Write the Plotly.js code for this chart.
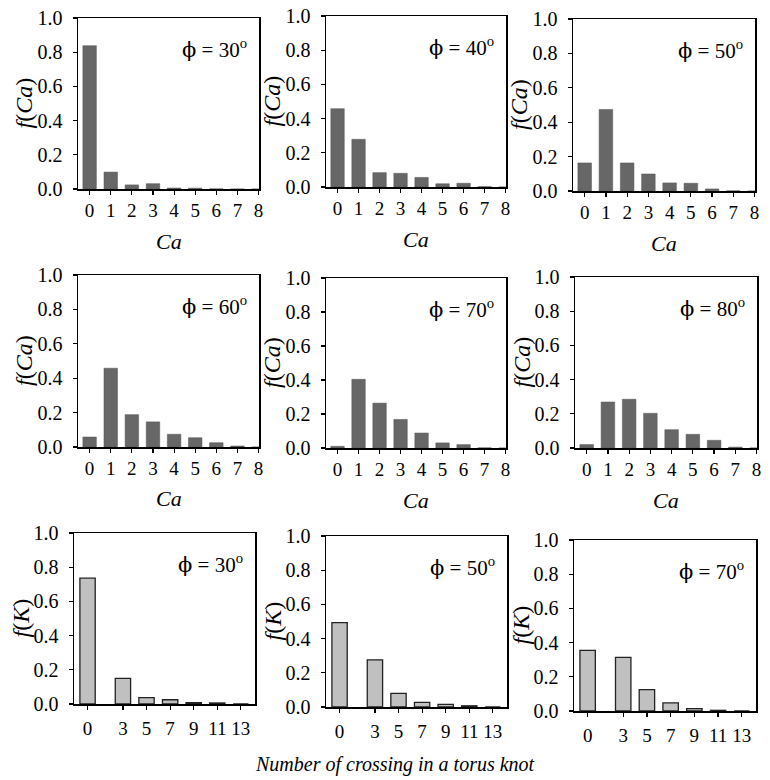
<!DOCTYPE html>
<html>
<head>
<meta charset="utf-8">
<script src="https://cdn.plot.ly/plotly-3.0.1.min.js"></script>
<style>
  html, body { margin: 0; padding: 0; background: #fff; }
  #chart { width: 770px; height: 780px; }
</style>
</head>
<body>
<div id="chart"></div>
<script>
// ---------- data ----------
const caCategories = [0, 1, 2, 3, 4, 5, 6, 7, 8];
const fCa30 = [0.838, 0.099, 0.024, 0.031, 0.006, 0.005, 0.001, 0.0, 0.0];
const fCa40 = [0.458, 0.279, 0.084, 0.080, 0.056, 0.019, 0.022, 0.002, 0.0];
const fCa50 = [0.163, 0.474, 0.163, 0.099, 0.047, 0.045, 0.012, 0.001, 0.0];
const fCa60 = [0.058, 0.458, 0.188, 0.146, 0.074, 0.054, 0.025, 0.006, 0.0];
const fCa70 = [0.010, 0.404, 0.264, 0.168, 0.088, 0.030, 0.020, 0.001, 0.0];
const fCa80 = [0.020, 0.269, 0.285, 0.203, 0.107, 0.080, 0.045, 0.005, 0.0];

const kCategories = [0, 3, 5, 7, 9, 11, 13];
const fK30 = [0.736, 0.150, 0.037, 0.025, 0.008, 0.006, 0.0];
const fK50 = [0.494, 0.276, 0.080, 0.027, 0.015, 0.007, 0.0];
const fK70 = [0.354, 0.314, 0.125, 0.047, 0.014, 0.004, 0.0];

const phiLabels = ["30", "40", "50", "60", "70", "80", "30", "50", "70"];
const yTickVals = [0, 0.2, 0.4, 0.6, 0.8, 1.0];
const yTickText = ["0.0", "0.2", "0.4", "0.6", "0.8", "1.0"];
const caTitle = "<i>Ca</i>";
const fCaTitle = "<i>f</i>(<i>Ca</i>)";
const fKTitle = "<i>f</i>(<i>K</i>)";
const bottomTitle = "<i>Number of crossing in a torus knot</i>";

// ---------- layout helpers ----------
const W = 770, H = 780;
// plot boxes in px: [left, top, right, bottom]
const boxes = [
  [78, 18, 259, 189], [326, 16, 506, 187], [573, 19, 755, 191],
  [78, 275, 259, 447], [326, 278, 506, 448], [575, 277, 757, 448],
  [74, 533, 255, 704], [326, 536, 507, 707], [574, 540, 756, 711]
];
const seriesCa = [fCa30, fCa40, fCa50, fCa60, fCa70, fCa80];
const seriesK = [fK30, fK50, fK70];

const FONT = "Liberation Serif";
const data = [];
const layout = {
  width: W, height: H,
  margin: {l: 0, r: 0, t: 0, b: 0},
  paper_bgcolor: "#fff", plot_bgcolor: "#fff",
  showlegend: false,
  font: {family: FONT, color: "#000"},
  annotations: []
};

for (let i = 0; i < 9; i++) {
  const n = i + 1;
  const xa = n === 1 ? "x" : "x" + n;
  const ya = n === 1 ? "y" : "y" + n;
  const isCa = i < 6;
  const b = boxes[i];
  data.push({
    type: "bar",
    x: isCa ? caCategories : kCategories,
    y: isCa ? seriesCa[i] : seriesK[i - 6],
    width: isCa ? 0.64 : 1.3,
    xaxis: xa, yaxis: ya,
    marker: isCa
      ? {color: "#676767", line: {color: "#555", width: 0.5}}
      : {color: "#c0c0c0", line: {color: "#222", width: 1.3}},
    hoverinfo: "x+y"
  });
  const axCommon = {
    showline: true, linecolor: "#000", linewidth: 1.5, mirror: true,
    showgrid: false, zeroline: false,
    ticks: "outside", ticklen: 4, tickwidth: 1.2, tickcolor: "#000",
    fixedrange: true
  };
  layout[(n === 1 ? "xaxis" : "xaxis" + n)] = Object.assign({}, axCommon, {
    domain: [b[0] / W, b[2] / W],
    anchor: ya,
    range: isCa ? [-0.55, 8.02] : [-1.15, 14.2],
    tickmode: "array",
    tickvals: isCa ? caCategories : kCategories,
    ticktext: (isCa ? caCategories : kCategories).map(String),
    tickfont: {family: FONT, size: 19, color: "#000"},
    ticklabelstandoff: isCa ? 0 : 3
  });
  layout[(n === 1 ? "yaxis" : "yaxis" + n)] = Object.assign({}, axCommon, {
    domain: [1 - b[3] / H, 1 - b[1] / H],
    anchor: xa,
    range: [0, 1.0],
    tickmode: "array",
    tickvals: yTickVals,
    ticktext: yTickText,
    tickfont: {family: FONT, size: 20, color: "#000"},
    ticklabelstandoff: 6
  });
  // phi label
  layout.annotations.push({
    xref: xa + " domain", yref: ya + " domain",
    x: 1 - 10 / (b[2] - b[0]), y: 1 - 30 / (b[3] - b[1]),
    xanchor: "right", yanchor: "middle", showarrow: false,
    text: "<span style=\"font-family:'DejaVu Serif'\">\u03D5</span> = " + phiLabels[i] + "<sup>o</sup>",
    font: {family: FONT, size: 21, color: "#000"}
  });
  // y title
  layout.annotations.push({
    xref: "paper", yref: "paper",
    x: (b[0] - 54) / W, y: 1 - ((b[1] + b[3]) / 2) / H,
    xanchor: "center", yanchor: "middle", showarrow: false,
    textangle: -90,
    text: isCa ? fCaTitle : fKTitle,
    font: {family: FONT, size: 24, color: "#000"}
  });
  // x title (Ca) for top two rows
  if (isCa) {
    layout.annotations.push({
      xref: "paper", yref: "paper",
      x: ((b[0] + b[2]) / 2) / W, y: 1 - (b[3] + 52) / H,
      xanchor: "center", yanchor: "middle", showarrow: false,
      text: caTitle,
      font: {family: FONT, size: 22, color: "#000"}
    });
  }
}
layout.annotations.push({
  xref: "paper", yref: "paper",
  x: 395 / W, y: 1 - 764 / H,
  xanchor: "center", yanchor: "middle", showarrow: false,
  text: bottomTitle,
  font: {family: FONT, size: 20, color: "#000"}
});

Plotly.newPlot("chart", data, layout, {displayModeBar: false, staticPlot: true});
</script>
</body>
</html>
